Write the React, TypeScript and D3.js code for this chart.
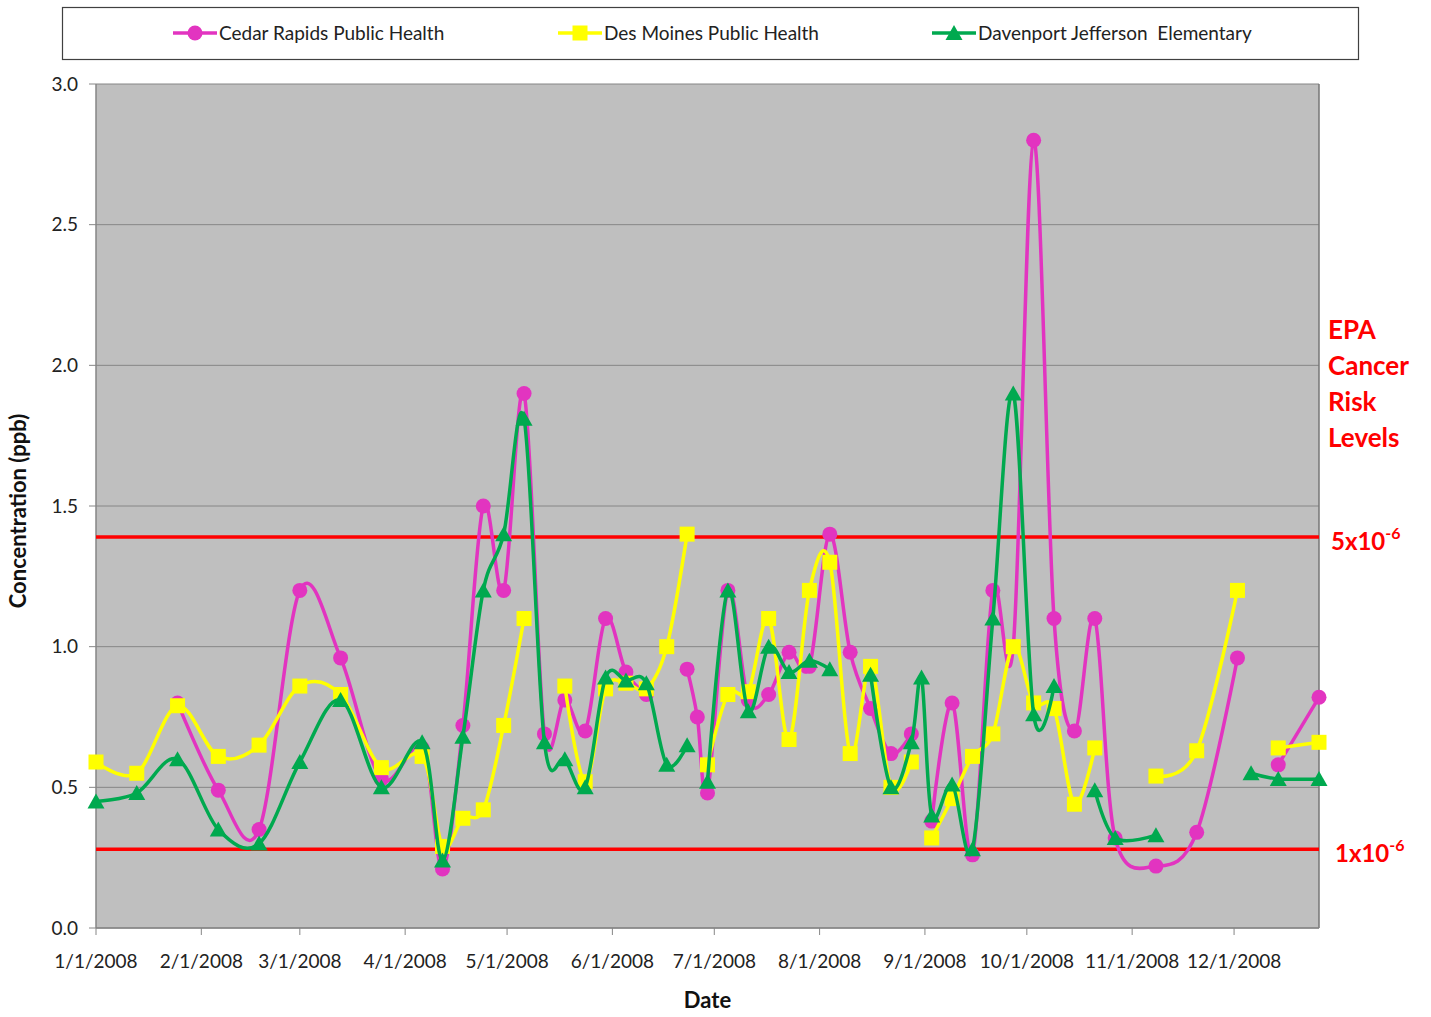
import React from "react";
import * as d3 from "d3";

const dates = [
  "2008-01-01","2008-01-13","2008-01-25","2008-02-06","2008-02-18","2008-03-01","2008-03-13","2008-03-25",
  "2008-04-06","2008-04-12","2008-04-18","2008-04-24","2008-04-30","2008-05-06","2008-05-12","2008-05-18",
  "2008-05-24","2008-05-30","2008-06-05","2008-06-11","2008-06-17","2008-06-23","2008-06-26","2008-06-29",
  "2008-07-05","2008-07-11","2008-07-17","2008-07-23","2008-07-29","2008-08-04","2008-08-10","2008-08-16",
  "2008-08-22","2008-08-28","2008-08-31","2008-09-03","2008-09-09","2008-09-15","2008-09-21","2008-09-27",
  "2008-10-03","2008-10-09","2008-10-15","2008-10-21","2008-10-27","2008-11-08","2008-11-20","2008-12-02",
  "2008-12-06","2008-12-14","2008-12-26",
];

const cedarRapids: (number | null)[] = [
  null, null, 0.80, 0.49, 0.35, 1.20, 0.96, 0.53,
  0.64, 0.21, 0.72, 1.50, 1.20, 1.90, 0.69, 0.81,
  0.70, 1.10, 0.91, 0.83, null, 0.92, 0.75, 0.48,
  1.20, 0.81, 0.83, 0.98, 0.93, 1.40, 0.98, 0.78,
  0.62, 0.69, null, 0.38, 0.80, 0.26, 1.20, 1.00,
  2.80, 1.10, 0.70, 1.10, 0.32, 0.22, 0.34, 0.96,
  null, 0.58, 0.82,
];

const desMoines: (number | null)[] = [
  0.59, 0.55, 0.79, 0.61, 0.65, 0.86, 0.83, 0.57,
  0.61, 0.29, 0.39, 0.42, 0.72, 1.10, null, 0.86,
  0.52, 0.85, 0.87, 0.85, 1.00, 1.40, null, 0.58,
  0.83, 0.84, 1.10, 0.67, 1.20, 1.30, 0.62, 0.93,
  0.50, 0.59, null, 0.32, 0.46, 0.61, 0.69, 1.00,
  0.80, 0.78, 0.44, 0.64, null, 0.54, 0.63, 1.20,
  null, 0.64, 0.66,
];

const davenport: (number | null)[] = [
  0.45, 0.48, 0.60, 0.35, 0.30, 0.59, 0.81, 0.50,
  0.66, 0.24, 0.68, 1.20, 1.40, 1.81, 0.66, 0.60,
  0.50, 0.89, 0.88, 0.87, 0.58, 0.65, null, 0.52,
  1.20, 0.77, 1.00, 0.91, 0.95, 0.92, null, 0.90,
  0.50, 0.66, 0.89, 0.40, 0.51, 0.28, 1.10, 1.90,
  0.76, 0.86, null, 0.49, 0.32, 0.33, null, null,
  0.55, 0.53, 0.53,
];

const seriesNames = [
  "Cedar Rapids Public Health",
  "Des Moines Public Health",
  "Davenport Jefferson  Elementary",
];

const monthTicks = [
  "2008-01-01","2008-02-01","2008-03-01","2008-04-01","2008-05-01","2008-06-01",
  "2008-07-01","2008-08-01","2008-09-01","2008-10-01","2008-11-01","2008-12-01",
];
const yTicks = [0, 0.5, 1.0, 1.5, 2.0, 2.5, 3.0];
const riskLevelValues = [1.39, 0.28];
const riskLevelLabels = ["5x10", "1x10"];
const riskTitle = ["EPA", "Cancer", "Risk", "Levels"];

const FONT = "Lato, 'Open Sans', sans-serif";
const COLORS = ["#E234C0", "#FFFF00", "#00A94F"];
const SHAPES = ["circle", "square", "triangle"];

const parse = d3.timeParse("%Y-%m-%d");
const fmtTick = d3.timeFormat("%-m/%-d/%Y");

function Marker({ shape, x, y, color }: { shape: string; x: number; y: number; color: string }) {
  if (shape === "circle") return <circle cx={x} cy={y} r={7.5} fill={color} />;
  if (shape === "square") return <rect x={x - 7.5} y={y - 7.5} width={15} height={15} fill={color} />;
  return <path d={`M${x},${y - 8}L${x + 8.5},${y + 7}L${x - 8.5},${y + 7}Z`} fill={color} />;
}

export default function App() {
  const W = 1431, H = 1017;
  const left = 96, right = 1319, top = 84, bottom = 928;
  const dateObjs = dates.map((d) => parse(d) as Date);
  const x = d3.scaleTime().domain([parse("2008-01-01") as Date, parse("2008-12-26") as Date]).range([left, right]);
  const y = d3.scaleLinear().domain([0, 3]).range([bottom, top]);
  const seriesData = [cedarRapids, desMoines, davenport];

  const line = d3
    .line<number | null>()
    .defined((d) => d != null)
    .x((_, i) => x(dateObjs[i]))
    .y((d) => y(d as number))
    .curve(d3.curveCardinal.tension(0));

  const legendTextX = [219, 604, 978];

  return (
    <div style={{ position: "absolute", left: 0, top: 0 }}>
      <svg width={W} height={H} style={{ display: "block", background: "#fff" }} fontFamily={FONT}>
        {/* legend */}
        <rect x={62.5} y={7.5} width={1296} height={52} fill="#fff" stroke="#404040" strokeWidth={1.2} />
        {seriesNames.map((name, i) => (
          <g key={name}>
            <line x1={legendTextX[i] - 46} x2={legendTextX[i] - 2} y1={33} y2={33} stroke={COLORS[i]} strokeWidth={3.5} />
            <Marker shape={SHAPES[i]} x={legendTextX[i] - 24} y={33} color={COLORS[i]} />
            <text x={legendTextX[i]} y={40} fontSize={19} fill="#222" style={{ whiteSpace: "pre" }}>
              {name}
            </text>
          </g>
        ))}

        {/* plot area */}
        <rect x={left} y={top} width={right - left} height={bottom - top} fill="#BFBFBF" />
        {yTicks.map((t) => (
          <line key={"g" + t} x1={left} x2={right} y1={y(t)} y2={y(t)} stroke="#868686" strokeWidth={1} />
        ))}
        <line x1={right} x2={right} y1={top} y2={bottom} stroke="#767676" strokeWidth={1.5} />
        <line x1={left} x2={left} y1={top} y2={bottom} stroke="#868686" strokeWidth={1.5} />
        <line x1={left} x2={right} y1={bottom} y2={bottom} stroke="#868686" strokeWidth={1.5} />

        {/* y axis */}
        {yTicks.map((t) => (
          <g key={"y" + t}>
            <line x1={89} x2={left} y1={y(t)} y2={y(t)} stroke="#868686" strokeWidth={1} />
            <text x={78} y={y(t)} dy="0.35em" textAnchor="end" fontSize={19} fill="#222">
              {d3.format(".1f")(t)}
            </text>
          </g>
        ))}
        <text
          transform={`translate(26,${(top + bottom) / 2 + 5}) rotate(-90)`}
          textAnchor="middle"
          fontSize={22}
          fontWeight="bold"
          fill="#111"
        >
          Concentration (ppb)
        </text>

        {/* x axis */}
        {monthTicks.map((m) => {
          const d = parse(m) as Date;
          const xx = x(d);
          return (
            <g key={m}>
              <line x1={xx} x2={xx} y1={bottom} y2={bottom + 7} stroke="#868686" strokeWidth={1} />
              <text x={xx} y={968} textAnchor="middle" fontSize={19} fill="#222">
                {fmtTick(d)}
              </text>
            </g>
          );
        })}
        <text x={(left + right) / 2} y={1008} textAnchor="middle" fontSize={22} fontWeight="bold" fill="#111">
          Date
        </text>

        {/* risk lines */}
        {riskLevelValues.map((v) => (
          <line key={"r" + v} x1={left} x2={right} y1={y(v)} y2={y(v)} stroke="#FF0000" strokeWidth={3.5} />
        ))}

        {/* series */}
        {seriesData.map((s, si) => (
          <g key={"s" + si}>
            <path d={line(s) || ""} fill="none" stroke={COLORS[si]} strokeWidth={3.5} strokeLinejoin="round" />
            {s.map((v, i) =>
              v == null ? null : (
                <Marker key={i} shape={SHAPES[si]} x={x(dateObjs[i])} y={y(v)} color={COLORS[si]} />
              )
            )}
          </g>
        ))}

        {/* risk labels */}
        {riskTitle.map((t, i) => (
          <text key={t} x={1328} y={339 + i * 36} fontSize={26} fontWeight="bold" fill="#FF0000">
            {t}
          </text>
        ))}
        {riskLevelValues.map((v, i) => (
          <text key={"rl" + v} x={i === 0 ? 1331 : 1335} y={y(v) + 13} fontSize={24} fontWeight="bold" fill="#FF0000">
            {riskLevelLabels[i]}
            <tspan fontSize={16} dy={-11}>-6</tspan>
          </text>
        ))}
      </svg>
    </div>
  );
}
